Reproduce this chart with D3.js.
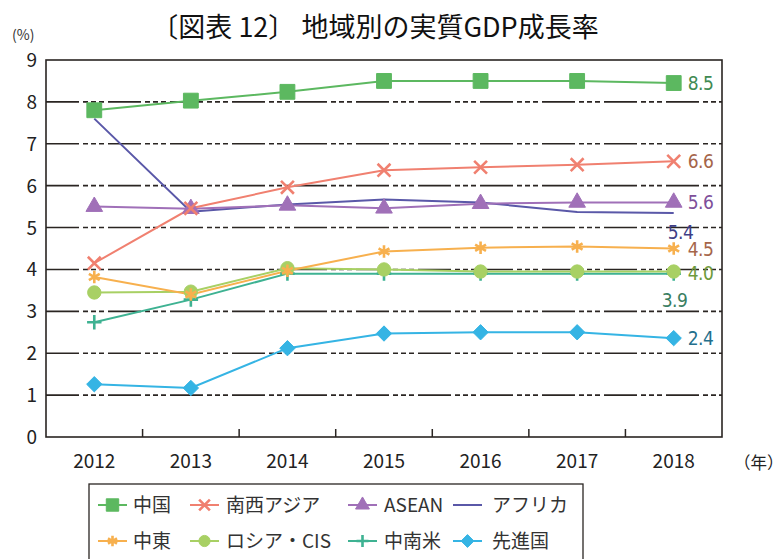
<!DOCTYPE html>
<html>
<head>
<meta charset="utf-8">
<script src="https://cdn.jsdelivr.net/npm/d3@7"></script>
<style>
  body { margin: 0; background: #fff; }
  text { font-family: "Noto Sans CJK JP", "Noto Sans", sans-serif; }
  text.endlabel { font-family: "DejaVu Sans Condensed", "DejaVu Sans", sans-serif; }
</style>
</head>
<body>
<div id="chart"></div>
<script>
// data
const years = ["2012", "2013", "2014", "2015", "2016", "2017", "2018"];
const yTicks = [0, 1, 2, 3, 4, 5, 6, 7, 8, 9];

const china    = [7.8, 8.03, 8.24, 8.5, 8.5, 8.5, 8.45];
const southAsia = [4.15, 5.46, 5.96, 6.37, 6.44, 6.5, 6.58];
const asean    = [5.5, 5.45, 5.53, 5.46, 5.57, 5.6, 5.6];
const africa   = [7.6, 5.38, 5.55, 5.67, 5.6, 5.37, 5.35];
const mideast  = [3.82, 3.4, 3.97, 4.43, 4.52, 4.55, 4.5];
const russia   = [3.45, 3.47, 4.03, 4.0, 3.95, 3.95, 3.95];
const latam    = [2.74, 3.28, 3.9, 3.9, 3.9, 3.9, 3.9];
const advanced = [1.26, 1.17, 2.12, 2.47, 2.5, 2.5, 2.36];

const endLabels = ["8.5", "6.6", "5.6", "5.4", "4.5", "4.0", "3.9", "2.4"];

// series table built from the arrays above
const series = [
  {name: "中国",       values: china,     color: "#5cb860", symbol: d3.symbolSquare,   size: 220, label: endLabels[0], lcolor: "#3f8a52", dx: 14, dy: 0},
  {name: "南西アジア", values: southAsia, color: "#f08070", symbol: d3.symbolTimes,    size: 110, label: endLabels[1], lcolor: "#a5654a", dx: 14, dy: 0, stroke: true},
  {name: "ASEAN",      values: asean,     color: "#a070b8", symbol: d3.symbolTriangle, size: 120, label: endLabels[2], lcolor: "#7e4f9a", dx: 14, dy: 0},
  {name: "アフリカ",   values: africa,    color: "#5a58a8", symbol: null,              size: 0,   label: endLabels[3], lcolor: "#3e3e86", dx: -6, dy: 19},
  {name: "中東",       values: mideast,   color: "#f7b04e", symbol: d3.symbolAsterisk, size: 110, label: endLabels[4], lcolor: "#a5654a", dx: 14, dy: 0, stroke: true},
  {name: "ロシア・CIS", values: russia,   color: "#a8d064", symbol: d3.symbolCircle,   size: 140, label: endLabels[5], lcolor: "#6e9a3c", dx: 14, dy: 1},
  {name: "中南米",     values: latam,     color: "#3eb292", symbol: d3.symbolPlus,     size: 70,  label: endLabels[6], lcolor: "#3a7e62", dx: -12, dy: 26, stroke: true},
  {name: "先進国",     values: advanced,  color: "#35b4e4", symbol: d3.symbolDiamond2, size: 150, label: endLabels[7], lcolor: "#246f8c", dx: 14, dy: 0}
];

const width = 784, height = 559;
const plotLeft = 46, plotRight = 722, plotTop = 60, plotBottom = 437;

const svg = d3.select("#chart").append("svg")
  .attr("width", width).attr("height", height);

const x = d3.scaleBand().domain(years).range([plotLeft, plotRight]).padding(0);
const y = d3.scaleLinear().domain([0, 9]).range([plotBottom, plotTop]);
const cx = d => x(d) + x.bandwidth() / 2;

// title
svg.append("text")
  .attr("x", 375).attr("y", 37)
  .attr("text-anchor", "middle")
  .attr("font-size", 27)
  .attr("fill", "#111")
  .text("〔図表 12〕 地域別の実質GDP成長率");

svg.append("text")
  .attr("x", 12).attr("y", 40)
  .attr("font-size", 14)
  .attr("fill", "#333")
  .text("(%)");

// dashed gridlines
svg.append("g")
  .selectAll("line")
  .data(yTicks.filter(d => d > 0 && d < 9))
  .enter().append("line")
  .attr("x1", plotLeft).attr("x2", plotRight)
  .attr("y1", d => y(d)).attr("y2", d => y(d))
  .attr("stroke", "#2a2522")
  .attr("stroke-width", 1.6)
  .attr("stroke-dasharray", "33,4,5,3,5,3,5,4");

// frame
svg.append("rect")
  .attr("x", plotLeft).attr("y", plotTop)
  .attr("width", plotRight - plotLeft).attr("height", plotBottom - plotTop)
  .attr("fill", "none")
  .attr("stroke", "#2a2522")
  .attr("stroke-width", 1.6);

// y axis labels
svg.append("g")
  .selectAll("text")
  .data(yTicks)
  .enter().append("text")
  .attr("x", 37).attr("y", d => y(d) + 7)
  .attr("text-anchor", "end")
  .attr("font-size", 19)
  .attr("fill", "#222")
  .text(d => d);

// x axis: inner ticks at band edges
svg.append("g")
  .selectAll("line")
  .data(years.slice(1))
  .enter().append("line")
  .attr("x1", d => x(d)).attr("x2", d => x(d))
  .attr("y1", plotBottom).attr("y2", plotBottom - 8)
  .attr("stroke", "#2a2522")
  .attr("stroke-width", 1.5);

svg.append("g")
  .selectAll("text")
  .data(years)
  .enter().append("text")
  .attr("x", d => cx(d)).attr("y", 468)
  .attr("text-anchor", "middle")
  .attr("font-size", 19)
  .attr("fill", "#222")
  .text(d => d);

svg.append("text")
  .attr("x", 734).attr("y", 469)
  .attr("font-size", 16.5)
  .attr("fill", "#222")
  .text("（年）");

// lines
const line = d3.line()
  .x((d, i) => cx(years[i]))
  .y(d => y(d));

const drawOrder = [6, 5, 4, 7, 3, 2, 1, 0];

drawOrder.forEach(k => {
  const s = series[k];
  svg.append("path")
    .datum(s.values)
    .attr("d", line)
    .attr("fill", "none")
    .attr("stroke", s.color)
    .attr("stroke-width", 2);
});

function drawMarker(g, s, px, py) {
  if (!s.symbol) return;
  g.append("path")
    .attr("transform", `translate(${px},${py})`)
    .attr("d", d3.symbol().type(s.symbol).size(s.size)())
    .attr("fill", s.stroke ? "none" : s.color)
    .attr("stroke", s.color)
    .attr("stroke-width", s.stroke ? 2.6 : 1);
}

drawOrder.forEach(k => {
  const s = series[k];
  const g = svg.append("g");
  s.values.forEach((v, i) => drawMarker(g, s, cx(years[i]), y(v)));
});

// end labels
series.forEach(s => {
  const last = s.values[s.values.length - 1];
  svg.append("text")
    .attr("class", "endlabel")
    .attr("x", cx(years[years.length - 1]) + s.dx)
    .attr("y", y(last) + s.dy + 7)
    .attr("font-size", 19)
    .attr("letter-spacing", -0.5)
    .attr("fill", s.lcolor)
    .text(s.label);
});

// legend
const legend = svg.append("g");
legend.append("rect")
  .attr("x", 89).attr("y", 484)
  .attr("width", 494).attr("height", 90)
  .attr("fill", "#fff")
  .attr("stroke", "#2a2522")
  .attr("stroke-width", 1.3);

const colX = [98, 190, 348, 453];
const textX = [133, 226, 384, 492];
const rowY = [505, 541];

series.forEach((s, i) => {
  const col = i % 4, row = Math.floor(i / 4);
  const lx = colX[col], ly = rowY[row];
  legend.append("line")
    .attr("x1", lx).attr("x2", lx + 29)
    .attr("y1", ly).attr("y2", ly)
    .attr("stroke", s.color)
    .attr("stroke-width", 2);
  drawMarker(legend, {...s, size: s.size * 0.7}, lx + 14.5, ly);
  legend.append("text")
    .attr("x", textX[col]).attr("y", ly + 7)
    .attr("font-size", 19)
    .attr("fill", "#333")
    .text(s.name);
});
</script>
</body>
</html>
